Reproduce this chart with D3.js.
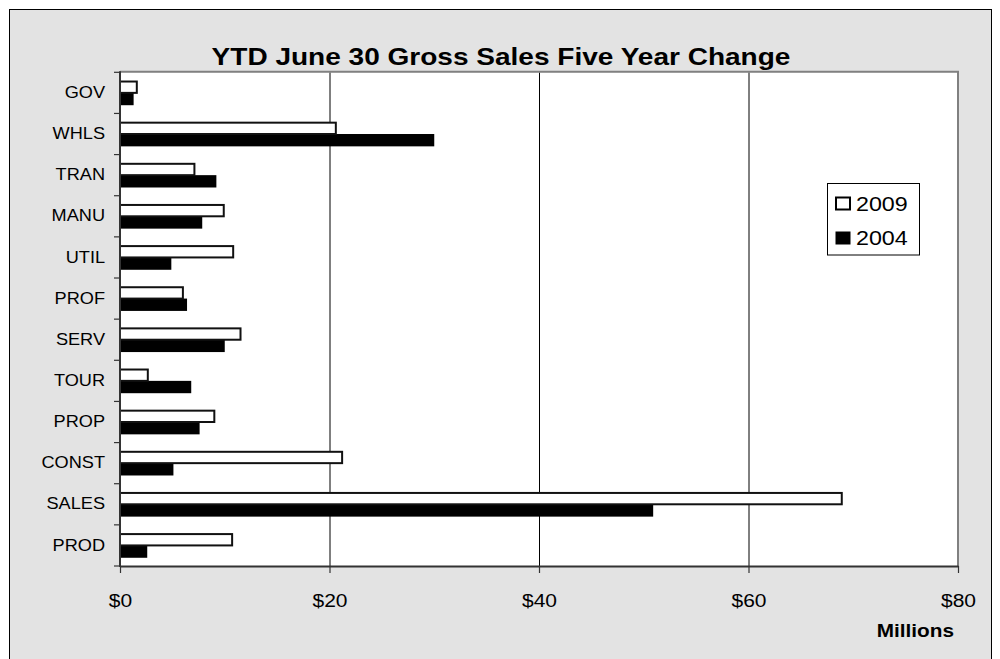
<!DOCTYPE html>
<html><head><meta charset="utf-8">
<script src="https://cdn.jsdelivr.net/npm/d3@7"></script>
<style>body{margin:0;background:#fff}svg{display:block}text{font-family:"Liberation Sans",Arial,sans-serif;fill:#000}</style>
</head><body><svg id="c" width="1000" height="659"></svg>
<script>
const categories = ["GOV","WHLS","TRAN","MANU","UTIL","PROF","SERV","TOUR","PROP","CONST","SALES","PROD"];
const values2009 = [1.7,20.7,7.2,10.0,10.9,6.1,11.6,2.75,9.1,21.3,69.0,10.8];
const values2004 = [1.3,30.0,9.2,7.85,4.9,6.4,10.0,6.8,7.6,5.1,50.9,2.6];
const xTicks = [0,20,40,60,80];
const seriesNames = ["2009","2004"];
const titleText = "YTD June 30 Gross Sales Five Year Change";
const unitText = "Millions";

const SX = 1.135; // horizontal text stretch
const svg = d3.select("#c");
const L = 120, R = 958, T = 72.3, B = 566;

svg.append("rect").attr("x",9.5).attr("y",9.5).attr("width",982).attr("height",670)
  .attr("fill","#e3e3e3").attr("stroke","#000").attr("stroke-width",1);

const x = d3.scaleLinear().domain([0,80]).range([L,R]);
const y = d3.scaleBand().domain(categories).range([T,B]).padding(0);
const bw = y.bandwidth();

svg.append("rect").attr("x",L).attr("y",T).attr("width",R-L).attr("height",B-T).attr("fill","#fff");

// gridlines
svg.append("g").selectAll("line").data(xTicks.filter(d=>d>0&&d<80)).join("line")
  .attr("x1",d=>x(d)+0.5).attr("x2",d=>x(d)+0.5).attr("y1",T).attr("y2",B)
  .attr("stroke","#000").attr("stroke-width",1);

// bars
const g = svg.append("g");
g.selectAll("rect.b04").data(categories).join("rect").attr("class","b04")
  .attr("x",L).attr("y",d=>y(d)+bw*0.5)
  .attr("width",(d,i)=>x(values2004[i])-L).attr("height",bw*0.3)
  .attr("fill","#000");
g.selectAll("rect.b09").data(categories).join("rect").attr("class","b09")
  .attr("x",L).attr("y",d=>y(d)+bw*0.2+1)
  .attr("width",(d,i)=>x(values2009[i])-L-1).attr("height",bw*0.3-1)
  .attr("fill","#fff").attr("stroke","#111").attr("stroke-width",2);

// plot border top/right
svg.append("line").attr("x1",L).attr("x2",R+1).attr("y1",T-0.5).attr("y2",T-0.5).attr("stroke","#808080").attr("stroke-width",2);
svg.append("line").attr("x1",R).attr("x2",R).attr("y1",T-1).attr("y2",B).attr("stroke","#808080").attr("stroke-width",2);

// bottom axis
const xa = svg.append("g").attr("transform",`translate(0,${B})`)
  .call(d3.axisBottom(x).tickValues(xTicks).tickFormat(d=>"$"+d).tickSize(7).tickSizeOuter(0).tickPadding(21));
xa.select(".domain").attr("stroke","#333").attr("stroke-width",2);
xa.selectAll(".tick line").attr("stroke","#333").attr("stroke-width",1.2);
xa.selectAll(".tick text").attr("font-size",18.5).attr("font-family","Liberation Sans, Arial, sans-serif")
  .attr("fill","#000").attr("transform",`scale(${SX},1)`);

// left axis labels
const ya = svg.append("g").attr("transform",`translate(${L},0)`)
  .call(d3.axisLeft(y).tickSize(0).tickPadding(13.2));
ya.select(".domain").remove();
ya.selectAll(".tick text").attr("font-size",16).attr("font-family","Liberation Sans, Arial, sans-serif")
  .attr("fill","#000").attr("transform",`scale(${SX},1)`);
// boundary ticks
const bounds = categories.map(c=>y(c)).concat([B]);
svg.append("g").selectAll("line").data(bounds).join("line")
  .attr("x1",L-6).attr("x2",L).attr("y1",d=>d).attr("y2",d=>d)
  .attr("stroke","#333").attr("stroke-width",1.2);
svg.append("line").attr("x1",L).attr("x2",L).attr("y1",T-1).attr("y2",B+1).attr("stroke","#333").attr("stroke-width",2);

// title
svg.append("text").attr("transform",`translate(501,65) scale(${SX},1)`).attr("text-anchor","middle")
  .attr("font-size",24.7).attr("font-weight","bold").text(titleText);
// unit
svg.append("text").attr("transform",`translate(954,637) scale(${SX},1)`).attr("text-anchor","end")
  .attr("font-size",18.3).attr("font-weight","bold").text(unitText);

// legend
const lg = svg.append("g");
lg.append("rect").attr("x",827.5).attr("y",183.5).attr("width",92).attr("height",71.5)
  .attr("fill","#fff").attr("stroke","#000").attr("stroke-width",1);
const fills = ["#fff","#000"];
seriesNames.forEach((s,i)=>{
  const cy = 203.5 + i*34.5;
  lg.append("rect").attr("x",836).attr("y",cy-6).attr("width",14).attr("height",12)
    .attr("fill",fills[i]).attr("stroke","#000").attr("stroke-width",i===0?2:1);
  lg.append("text").attr("transform",`translate(856,${cy+7}) scale(${SX},1)`)
    .attr("font-size",20.5).text(s);
});
</script></body></html>
